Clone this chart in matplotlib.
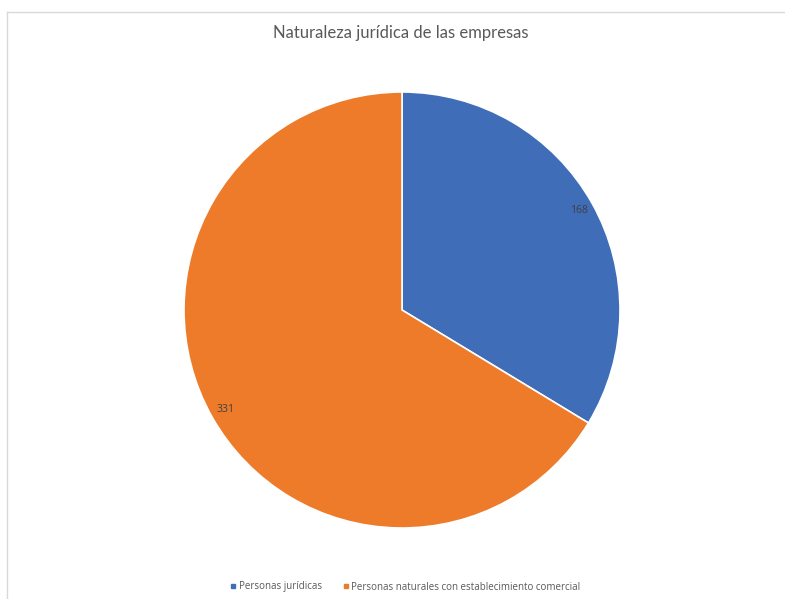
import numpy as np
import matplotlib.pyplot as plt
from matplotlib.lines import Line2D

categories = ['Personas jurídicas', 'Personas naturales con establecimiento comercial']
values = [168, 331]
colors = ['#3F6DB7', '#ED7B2A']

plt.rcParams['font.family'] = ['Open Sans', 'DejaVu Sans']

fig = plt.figure(figsize=(7.85, 5.99), dpi=100)
fig.patch.set_facecolor('white')

# chart area frame (left and top edges)
fig.add_artist(Line2D([7 / 785, 7 / 785], [0, 1 - 12 / 599], color='#d9d9d9', lw=1))
fig.add_artist(Line2D([7 / 785, 1], [1 - 12 / 599, 1 - 12 / 599], color='#d9d9d9', lw=1))

ax = fig.add_axes([184 / 785, 71 / 599, 436 / 785, 436 / 599])
wedges, _ = ax.pie(values, colors=colors, startangle=90, counterclock=False,
                   wedgeprops=dict(edgecolor='white', linewidth=1.2))
for w, v in zip(wedges, values):
    mid = np.deg2rad((w.theta1 + w.theta2) / 2)
    ax.text(0.93 * np.cos(mid), 0.93 * np.sin(mid), str(v),
            ha='center', va='center', fontsize=7.5, color='#404040')
ax.set_xlim(-1, 1)
ax.set_ylim(-1, 1)
ax.set_aspect('equal')
ax.axis('off')

fig.text(401 / 785, 1 - 33 / 599, 'Naturaleza jurídica de las empresas',
         ha='center', va='center', fontsize=12, color='#595959', family='Lato')

handles = [Line2D([], [], marker='s', ls='', color=c, markersize=3.5) for c in colors]
fig.legend(handles, categories, loc='center', bbox_to_anchor=(405 / 785, 1 - 587 / 599),
           ncol=2, frameon=False, fontsize=7, labelcolor='#595959',
           handletextpad=0.2, columnspacing=2.0, handlelength=0.8)

fig.savefig('out.png', dpi=100)
